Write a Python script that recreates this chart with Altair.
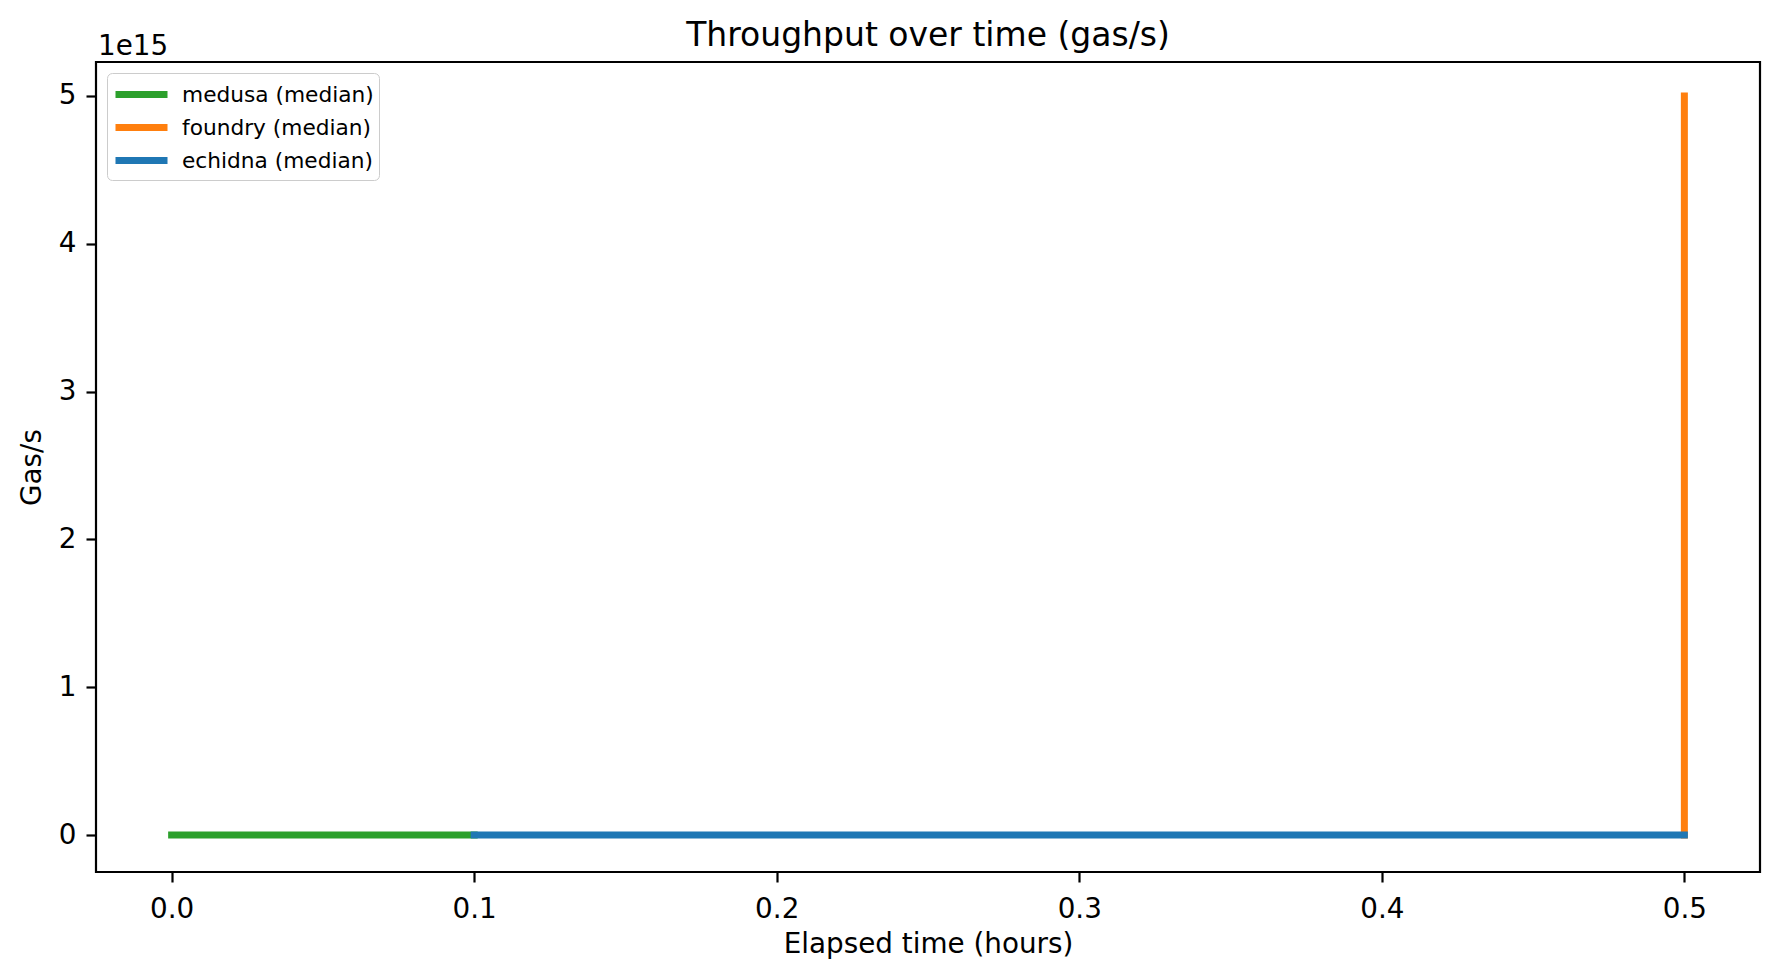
import altair as alt
import pandas as pd

# ---- data ----
series_names = ["medusa (median)", "foundry (median)", "echidna (median)"]
series_colors = ["#2ca02c", "#ff7f0e", "#1f77b4"]

medusa_hours = [0.0, 0.1]
medusa_gas = [0.0, 0.0]

foundry_hours = [0.5, 0.5]
foundry_gas = [0.0, 5.0e15]

echidna_hours = [0.1, 0.5]
echidna_gas = [0.0, 0.0]

x_ticks = [0.0, 0.1, 0.2, 0.3, 0.4, 0.5]
y_ticks = [0.0, 1e15, 2e15, 3e15, 4e15, 5e15]
offset_label = ["1e15"]

rows = []
for name, xs, ys in [
    (series_names[0], medusa_hours, medusa_gas),
    (series_names[1], foundry_hours, foundry_gas),
    (series_names[2], echidna_hours, echidna_gas),
]:
    for i, (xv, yv) in enumerate(zip(xs, ys)):
        rows.append({"series": name, "hours": xv, "gas": yv, "idx": i})
df = pd.DataFrame(rows)

FONT = "DejaVu Sans"

color_scale = alt.Scale(domain=series_names, range=series_colors)
x_enc = alt.X(
    "hours:Q",
    scale=alt.Scale(domain=[-0.025, 0.525], nice=False, zero=False),
    axis=alt.Axis(
        title="Elapsed time (hours)",
        values=x_ticks,
        format=".1f",
        grid=False,
        domain=False,
        tickColor="black",
        tickWidth=2.2,
        tickSize=10,
        labelPadding=13,
        labelFontSize=27.8,
        labelColor="black",
        labelFont=FONT,
        titleFont=FONT,
        titleFontSize=27.8,
        titleFontWeight="normal",
        titleColor="black",
        titlePadding=8,
    ),
)
y_enc = alt.Y(
    "gas:Q",
    scale=alt.Scale(domain=[-0.25e15, 5.23e15], nice=False, zero=False),
    axis=alt.Axis(
        title="Gas/s",
        values=y_ticks,
        labelExpr="format(datum.value / 1e15, 'd')",
        grid=False,
        domain=False,
        tickColor="black",
        tickWidth=2.2,
        tickSize=10,
        labelPadding=10,
        labelFontSize=27.8,
        labelColor="black",
        labelFont=FONT,
        titleFont=FONT,
        titleFontSize=27.8,
        titleFontWeight="normal",
        titleColor="black",
        titlePadding=12,
    ),
)

legend = alt.Legend(
    title=None,
    orient="top-left",
    offset=11,
    symbolType="M-1,0H3",
    symbolStrokeWidth=7,
    symbolSize=676,
    labelFontSize=21.7,
    labelFont=FONT,
    labelColor="black",
    labelOffset=37,
    labelLimit=500,
    padding=5,
    rowPadding=2,
    strokeColor="#cccccc",
    fillColor="white",
    cornerRadius=5,
)

layers = []
for name in series_names:
    layers.append(
        alt.Chart(df)
        .transform_filter(alt.datum.series == name)
        .mark_line(strokeWidth=7, strokeCap="square", clip=True)
        .encode(
            x=x_enc,
            y=y_enc,
            order=alt.Order("idx:Q"),
            color=alt.Color("series:N", scale=color_scale, legend=legend, sort=series_names),
        )
    )

offset_text = (
    alt.Chart(pd.DataFrame({"t": offset_label}))
    .mark_text(align="left", baseline="alphabetic", fontSize=27.8, font=FONT, color="black")
    .encode(text="t:N", x=alt.value(2), y=alt.value(-7))
)

chart = (
    alt.layer(*layers, offset_text)
    .properties(
        width=1664,
        height=810,
        title=alt.Title(
            "Throughput over time (gas/s)",
            fontSize=33,
            font=FONT,
            fontWeight="normal",
            color="black",
            anchor="middle",
            offset=14,
            dy=34,
        ),
        autosize=alt.AutoSizeParams(type="none"),
        padding={"left": 88, "top": 54, "right": 10, "bottom": 88},
        background="white",
    )
    .configure_view(stroke="black", strokeWidth=2.2)
)

chart.save("out.html", embed_options={"renderer": "svg", "actions": False})
